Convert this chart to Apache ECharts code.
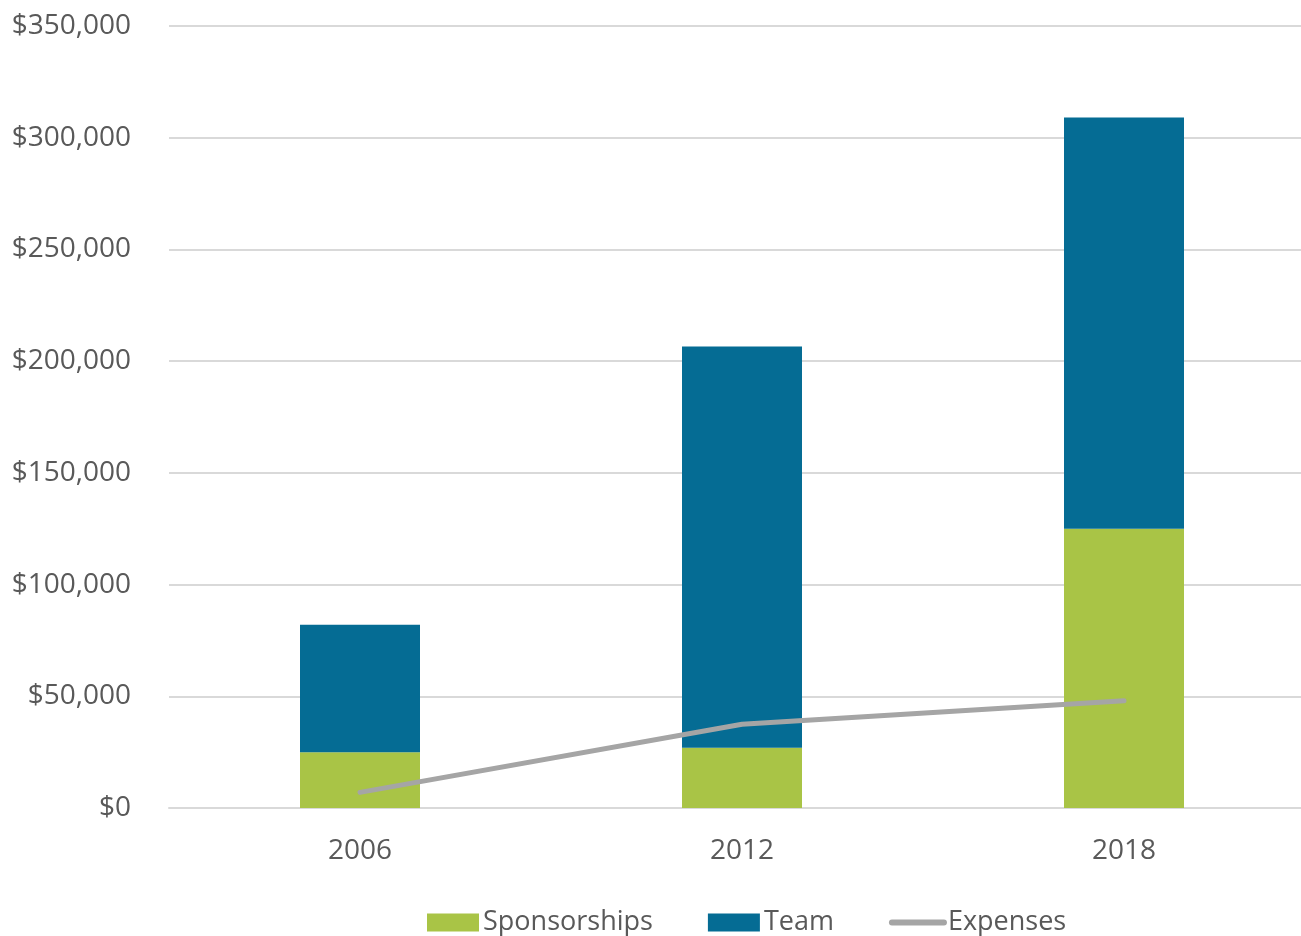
<!DOCTYPE html>
<html>
<head>
<meta charset="utf-8">
<script src="https://cdn.jsdelivr.net/npm/echarts@6/dist/echarts.min.js"></script>
<style>
html,body{margin:0;padding:0;background:#fff;}
#chart{width:1301px;height:936px;}
</style>
</head>
<body>
<div id="chart"></div>
<script>
var categories = ['2006', '2012', '2018'];
var sponsorships = [25000, 27000, 125000];
var team = [57000, 179500, 184000];
var expenses = [7000, 37500, 48000];
var yTicks = [0, 50000, 100000, 150000, 200000, 250000, 300000, 350000];

var chart = echarts.init(document.getElementById('chart'), null, {renderer: 'canvas'});
var FONT = '"Open Sans", "Noto Sans", sans-serif';
function money(v){ return '$' + v.toLocaleString('en-US'); }

chart.setOption({
  animation: false,
  backgroundColor: '#ffffff',
  grid: {left: 169, top: 26, right: -14, bottom: 128, containLabel: false, outerBoundsMode: 'none'},
  legend: {
    left: 427, top: 909, padding: 0,
    itemWidth: 52, itemHeight: 18, itemGap: 55,
    textStyle: {fontFamily: FONT, fontSize: 27, color: '#595959', padding: [0,0,0,-1]},
    data: [
      {name: 'Sponsorships', icon: 'rect'},
      {name: 'Team', icon: 'rect'},
      {name: 'Expenses', itemStyle: {opacity: 0}, lineStyle: {width: 6, cap: 'round', color: '#a5a5a5'}}
    ]
  },
  xAxis: {
    type: 'category',
    data: categories,
    axisLine: {show: true, lineStyle: {color: '#d9d9d9', width: 2}},
    axisTick: {show: false},
    axisLabel: {fontFamily: FONT, fontSize: 28, color: '#595959', margin: 29}
  },
  yAxis: {
    type: 'value',
    min: yTicks[0], max: yTicks[yTicks.length-1], interval: 50000,
    axisLine: {show: false},
    axisTick: {show: false},
    splitLine: {lineStyle: {color: '#d9d9d9', width: 2}},
    axisLabel: {fontFamily: FONT, fontSize: 28, color: '#595959', margin: 38, formatter: money}
  },
  series: [
    {name: 'Sponsorships', type: 'bar', stack: 'total', data: sponsorships, barWidth: 120,
     itemStyle: {color: '#a9c446'}},
    {name: 'Team', type: 'bar', stack: 'total', data: team, barWidth: 120,
     itemStyle: {color: '#056c94'}},
    {name: 'Expenses', type: 'line', data: expenses, symbol: 'none',
     lineStyle: {color: '#a5a5a5', width: 5, cap: 'round', join: 'round'},
     itemStyle: {color: '#a5a5a5'}, z: 5}
  ]
});
</script>
</body>
</html>
